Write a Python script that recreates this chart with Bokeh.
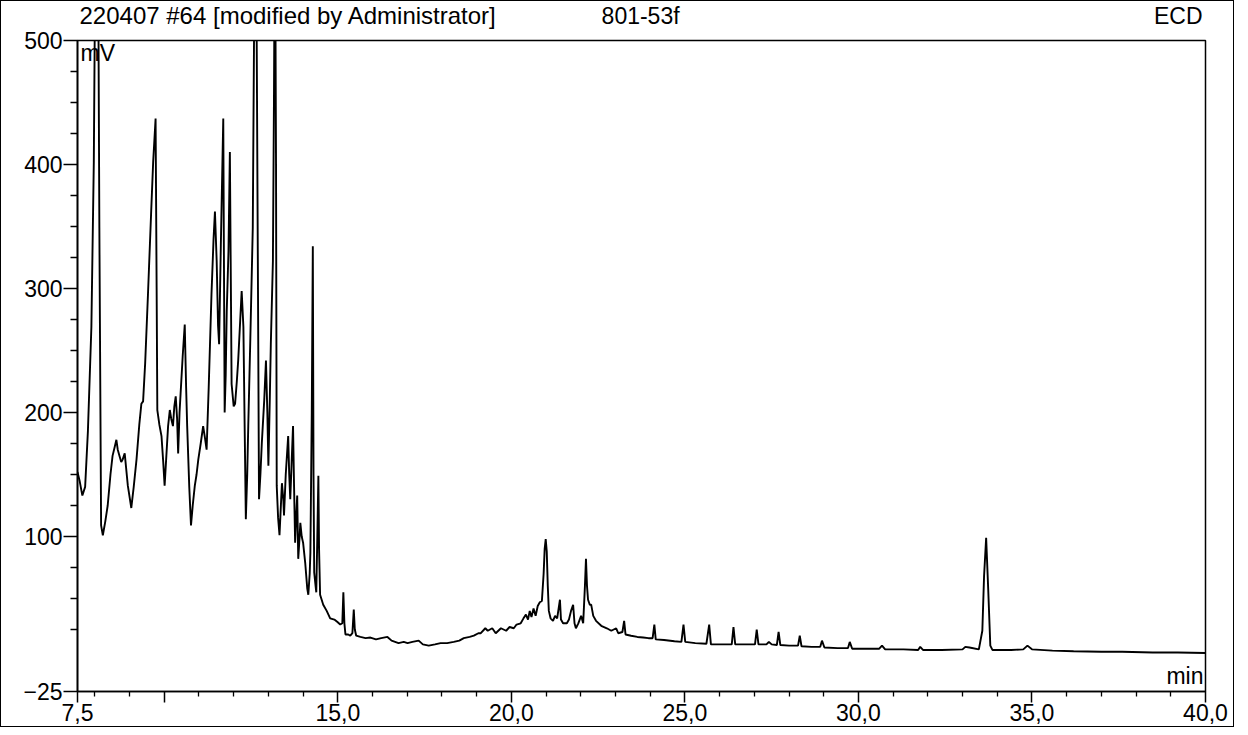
from bokeh.plotting import figure
from bokeh.layouts import column
from bokeh.models import FixedTicker, Label, Range1d
from bokeh.embed import file_html
from bokeh.resources import INLINE

# Chromatogram (time in min, signal in mV)
time_min = [
    7.50, 7.56, 7.64, 7.72, 7.80, 7.90, 7.97, 8.03, 8.09, 8.13, 8.18, 8.23, 8.30, 8.37, 8.45,
    8.51, 8.57, 8.62, 8.66, 8.71, 8.76, 8.80, 8.86, 8.95, 9.05, 9.12, 9.20, 9.28, 9.34, 9.39,
    9.45, 9.53, 9.62, 9.68, 9.75, 9.78, 9.80, 9.86, 9.92, 9.97, 10.01, 10.06, 10.11, 10.16, 10.20,
    10.25, 10.29, 10.33, 10.37, 10.40, 10.44, 10.47, 10.53, 10.59, 10.63, 10.66, 10.72, 10.77, 10.82, 10.88,
    10.93, 10.98, 11.05, 11.12, 11.17, 11.22, 11.28, 11.36, 11.42, 11.46, 11.51, 11.55, 11.58, 11.63, 11.70,
    11.74, 11.77, 11.80, 11.85, 11.89, 11.94, 12.00, 12.04, 12.09, 12.13, 12.18, 12.23, 12.28, 12.32, 12.35,
    12.39, 12.42, 12.48, 12.55, 12.60, 12.66, 12.70, 12.73, 12.77, 12.81, 12.88, 12.93, 12.97, 13.00, 13.04,
    13.07, 13.13, 13.16, 13.19, 13.22, 13.24, 13.28, 13.32, 13.36, 13.39, 13.43, 13.45, 13.50, 13.57, 13.60,
    13.63, 13.67, 13.71, 13.74, 13.77, 13.80, 13.83, 13.86, 13.90, 13.92, 13.96, 14.00, 14.06, 14.12, 14.15,
    14.19, 14.21, 14.25, 14.28, 14.30, 14.32, 14.36, 14.38, 14.41, 14.44, 14.46, 14.49, 14.58, 14.68, 14.78,
    14.90, 14.99, 15.07, 15.13, 15.16, 15.19, 15.22, 15.30, 15.36, 15.42, 15.46, 15.49, 15.53, 15.65, 15.80,
    15.94, 16.10, 16.25, 16.43, 16.55, 16.75, 16.90, 17.01, 17.15, 17.33, 17.45, 17.62, 17.80, 17.96, 18.15,
    18.34, 18.50, 18.63, 18.80, 18.92, 19.05, 19.12, 19.25, 19.32, 19.45, 19.55, 19.70, 19.85, 19.95, 20.07,
    20.15, 20.27, 20.35, 20.42, 20.48, 20.53, 20.58, 20.64, 20.70, 20.76, 20.82, 20.88, 20.93, 20.96, 20.99,
    21.02, 21.05, 21.08, 21.13, 21.20, 21.26, 21.32, 21.40, 21.43, 21.49, 21.60, 21.66, 21.72, 21.78, 21.82,
    21.86, 21.93, 22.01, 22.07, 22.12, 22.15, 22.18, 22.21, 22.26, 22.30, 22.36, 22.44, 22.59, 22.75, 22.88,
    23.02, 23.08, 23.20, 23.25, 23.29, 23.45, 23.63, 23.80, 23.95, 24.07, 24.12, 24.16, 24.40, 24.70, 24.90,
    24.96, 25.01, 25.30, 25.62, 25.70, 25.75, 26.05, 26.35, 26.40, 26.45, 26.75, 27.02, 27.07, 27.12, 27.35,
    27.42, 27.50, 27.65, 27.70, 27.75, 28.00, 28.26, 28.31, 28.36, 28.65, 28.90, 28.95, 29.02, 29.40, 29.70,
    29.75, 29.82, 30.20, 30.60, 30.68, 30.77, 31.30, 31.72, 31.78, 31.86, 32.40, 33.00, 33.08, 33.20, 33.47,
    33.57, 33.62, 33.68, 33.74, 33.80, 33.86, 34.40, 34.75, 34.87, 35.00, 35.59, 36.20, 37.00, 37.60, 38.48,
    39.20, 40.00,
]
signal_mv = [
    152, 145, 133, 140, 185, 269, 402, 640, 600, 349, 109, 101, 112, 125, 150,
    165, 172, 178, 170, 165, 160, 162, 167, 141, 123, 140, 162, 190, 207, 209,
    240, 295, 360, 402, 437, 300, 202, 190, 181, 160, 141, 165, 189, 202, 195,
    189, 205, 213, 195, 167, 200, 215, 245, 271, 220, 189, 140, 109, 125, 141,
    150, 162, 175, 189, 180, 170, 220, 295, 340, 362, 322, 270, 255, 335, 437,
    200, 230, 282, 330, 410, 223, 205, 207, 225, 242, 270, 298, 269, 180, 114,
    150, 189, 260, 349, 560, 520, 300, 130, 150, 175, 210, 242, 200, 157, 210,
    255, 322, 450, 620, 400, 141, 115, 101, 125, 143, 130, 117, 150, 181, 150,
    130, 160, 189, 140, 95, 115, 133, 82, 100, 111, 100, 95, 79, 58, 53,
    70, 87, 200, 334, 150, 71, 60, 55, 100, 149, 90, 53, 45, 40, 34,
    33, 31, 29, 30, 55, 30, 21, 21, 20, 22, 41, 25, 20, 19, 18,
    18.5, 17, 18, 19, 16, 14, 15, 14, 15, 16, 13, 12, 13, 14, 14,
    15, 16, 18, 19, 20, 22, 22, 26, 24, 26, 22, 26, 24, 27, 26,
    29, 30, 34, 37, 33, 40, 35, 42, 36, 44, 47, 48, 70, 90, 98,
    88, 60, 40, 34, 32, 36, 34, 49, 33, 30, 30, 33, 40, 45, 30,
    26, 30, 36, 30, 60, 82, 60, 49, 45, 45, 36, 32, 28, 26, 24,
    26, 22, 23, 32, 21, 20, 19, 18.5, 18, 18, 29, 17, 16.5, 15.5, 15,
    29, 15, 14, 13.5, 29, 13, 13, 13, 27, 13, 13, 13, 25, 13, 13,
    15, 13, 12.5, 23, 12.5, 12, 12, 20, 11.5, 11, 11, 16, 10.5, 10, 10,
    15, 9.5, 9.5, 9.5, 12, 9, 9, 8.5, 11, 8.5, 8.5, 9, 11, 10.5, 9,
    24, 68, 99, 57, 12, 8.5, 8.5, 9, 12, 9, 8, 7.5, 7, 7, 6.5,
    6.5, 6,
]

x_major = [7.5, 10, 15, 20, 25, 30, 35, 40]
x_labels = {7.5: "7,5", 10: "", 15: "15,0", 20: "20,0", 25: "25,0",
            30: "30,0", 35: "35,0", 40: "40,0"}
x_minor = [m for m in range(8, 40) if m % 5 != 0]
y_major = [-25, 100, 200, 300, 400, 500]
y_minor = [v for v in range(0, 500, 25) if v % 100 != 0]

header_texts = ["220407 #64 [modified by Administrator]", "801-53f", "ECD"]

FONT = "Liberation Sans"
W = 1232
LEFT, RIGHT = 76, 28
HEADER_H = 28

xr = Range1d(7.5, 40)

# header strip carrying the run information line
h = figure(width=W, height=HEADER_H, x_range=xr, y_range=Range1d(0, HEADER_H),
           output_backend="svg", toolbar_location=None,
           min_border_left=LEFT, min_border_right=RIGHT,
           min_border_top=0, min_border_bottom=0)
h.axis.visible = False
h.grid.visible = False
h.outline_line_color = None
h.border_fill_color = "white"
h.background_fill_color = "white"

def hlab(x, text, align, xoff, size):
    h.add_layout(Label(x=x, y=14, text=text, text_font=FONT, text_font_size=size,
                       text_color="black", text_align=align,
                       text_baseline="alphabetic", x_offset=xoff))

hlab(7.5, header_texts[0], "left", 2, "24px")
hlab(22.6, header_texts[1], "left", 0, "23px")
hlab(40, header_texts[2], "right", -3, "23px")

# main chromatogram
p = figure(width=W, height=697, x_range=xr, y_range=Range1d(-25, 500),
           output_backend="svg", toolbar_location=None,
           min_border_left=LEFT, min_border_right=RIGHT,
           min_border_top=11, min_border_bottom=35)

p.line(time_min, signal_mv, line_color="black", line_width=1.9)

p.grid.visible = False
p.outline_line_color = "black"
p.outline_line_width = 1.5
p.background_fill_color = "white"
p.border_fill_color = "white"

p.xaxis.ticker = FixedTicker(ticks=x_major, minor_ticks=x_minor)
p.xaxis.major_label_overrides = x_labels
p.yaxis.ticker = FixedTicker(ticks=y_major, minor_ticks=y_minor)

for ax in (p.xaxis, p.yaxis):
    ax.axis_line_color = "black"
    ax.axis_line_width = 1.7
    ax.major_tick_line_color = "black"
    ax.minor_tick_line_color = "black"
    ax.major_tick_line_width = 1.5
    ax.minor_tick_line_width = 1.3
    ax.major_tick_in = 0
    ax.minor_tick_in = 0
    ax.major_label_text_font = FONT
    ax.major_label_text_font_size = "23px"
    ax.major_label_text_color = "black"

p.xaxis.major_tick_out = 11
p.xaxis.minor_tick_out = 5
p.xaxis.major_label_standoff = 1
p.yaxis.major_tick_out = 14
p.yaxis.minor_tick_out = 7
p.yaxis.major_label_standoff = 1

def lab(x, y, text, **kw):
    p.add_layout(Label(x=x, y=y, text=text, text_font=FONT,
                       text_font_size="23px", text_color="black", **kw))

lab(7.5, 500, "mV", x_offset=3, y_offset=1, text_baseline="top", text_align="left")
lab(40, -25, "min", x_offset=-2, y_offset=3, text_baseline="bottom", text_align="right")

layout = column(h, p, spacing=0)
layout.styles = {"border": "1.5px solid black"}

open("out.html", "w").write(file_html(layout, INLINE))
